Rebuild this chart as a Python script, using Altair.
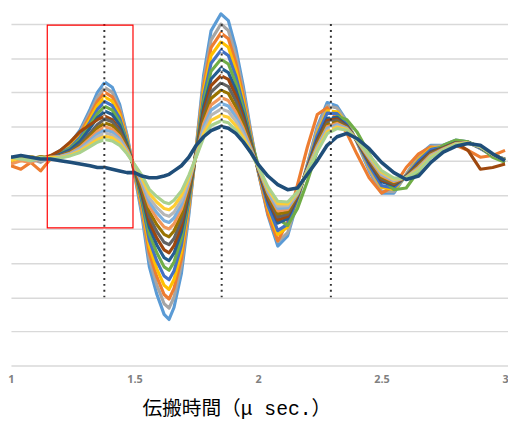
import altair as alt
import pandas as pd

# shared time axis (μsec)
x_vals = [1.00, 1.04, 1.08, 1.12, 1.16, 1.20, 1.24, 1.28, 1.32, 1.35, 1.38, 1.41, 1.44, 1.47,
          1.50, 1.53, 1.56, 1.59, 1.62, 1.64, 1.66, 1.69, 1.72, 1.75, 1.78, 1.81, 1.85, 1.88,
          1.91, 1.94, 1.97, 2.00, 2.04, 2.08, 2.12, 2.16, 2.20, 2.24, 2.28, 2.32, 2.36, 2.40,
          2.45, 2.50, 2.55, 2.60, 2.65, 2.70, 2.75, 2.80, 2.85, 2.90, 2.95, 3.00]

s01 = [0.05, 0.12, -0.02, 0.05, 0.12, 0.30, 0.50, 0.90, 1.50, 2.00, 2.30, 2.15, 1.65, 0.75, -0.40, -1.60, -3.10, -3.90, -4.50, -4.65, -4.30, -3.30, -1.60, 0.40, 2.50, 3.80, 4.30, 4.10, 3.30, 2.20, 0.90,
       -0.30, -1.60, -2.50, -2.20, -1.20, -0.10, 1.00, 1.70, 1.60, 1.15, 0.55, -0.30, -0.95, -0.95, -0.40, 0.15, 0.45, 0.45, 0.60, 0.55, 0.35, 0.15, 0.05]
s02 = [0.00, 0.08, 0.05, -0.05, 0.10, 0.28, 0.47, 0.84, 1.40, 1.86, 2.14, 2.00, 1.53, 0.70, -0.37, -1.49, -2.88, -3.63, -4.19, -4.32, -4.00, -3.07, -1.49, 0.37, 2.33, 3.53, 4.00, 3.81, 3.07, 2.05, 0.84,
       -0.29, -1.52, -2.37, -2.11, -1.17, -0.12, 0.93, 1.61, 1.54, 1.13, 0.56, -0.25, -0.89, -0.91, -0.41, 0.11, 0.42, 0.44, 0.59, 0.55, 0.36, 0.15, 0.05]
s03 = [-0.15, -0.25, -0.05, -0.30, 0.05, 0.26, 0.44, 0.78, 1.31, 1.74, 2.00, 1.87, 1.44, 0.65, -0.35, -1.39, -2.70, -3.39, -3.92, -4.05, -3.74, -2.87, -1.39, 0.35, 2.18, 3.31, 3.74, 3.57, 2.87, 1.91, 0.78,
       -0.27, -1.55, -2.35, -1.80, -0.70, 0.40, 1.35, 1.55, 1.25, 0.80, 0.20, -0.50, -0.95, -0.75, -0.20, 0.20, 0.40, 0.35, 0.45, 0.30, 0.10, 0.15, 0.30]
s04 = [0.05, 0.00, 0.10, 0.02, 0.08, 0.24, 0.41, 0.73, 1.22, 1.62, 1.86, 1.74, 1.34, 0.61, -0.32, -1.30, -2.51, -3.16, -3.65, -3.77, -3.48, -2.67, -1.30, 0.32, 2.03, 3.08, 3.48, 3.32, 2.67, 1.78, 0.73,
       -0.26, -1.38, -2.16, -1.94, -1.12, -0.16, 0.81, 1.46, 1.43, 1.08, 0.57, -0.18, -0.78, -0.84, -0.43, 0.04, 0.36, 0.41, 0.57, 0.54, 0.37, 0.16, 0.04]
s05 = [0.10, 0.05, 0.00, 0.08, 0.10, 0.23, 0.38, 0.68, 1.13, 1.50, 1.73, 1.61, 1.24, 0.56, -0.30, -1.20, -2.33, -2.93, -3.38, -3.49, -3.23, -2.48, -1.20, 0.30, 1.88, 2.85, 3.23, 3.08, 2.48, 1.65, 0.68,
       -0.25, -1.31, -2.05, -1.86, -1.10, -0.17, 0.75, 1.39, 1.38, 1.06, 0.57, -0.14, -0.73, -0.80, -0.44, 0.00, 0.33, 0.40, 0.56, 0.54, 0.37, 0.16, 0.04]
s06 = [0.00, 0.10, 0.05, 0.10, 0.05, 0.21, 0.35, 0.62, 1.04, 1.38, 1.59, 1.48, 1.14, 0.52, -0.28, -1.10, -2.14, -2.69, -3.11, -3.21, -2.97, -2.28, -1.10, 0.28, 1.73, 2.62, 2.97, 2.83, 2.28, 1.52, 0.62,
       -0.10, -0.90, -1.70, -1.90, -1.40, -0.60, 0.30, 1.00, 1.30, 1.20, 0.85, 0.20, -0.50, -0.85, -0.80, -0.30, 0.20, 0.45, 0.60, 0.55, 0.40, 0.10, -0.05]
s07 = [0.05, 0.12, 0.08, 0.00, 0.10, 0.19, 0.32, 0.57, 0.95, 1.26, 1.45, 1.35, 1.04, 0.47, -0.25, -1.01, -1.95, -2.46, -2.84, -2.93, -2.71, -2.08, -1.01, 0.25, 1.58, 2.39, 2.71, 2.58, 2.08, 1.39, 0.57,
       -0.23, -1.17, -1.83, -1.70, -1.05, -0.21, 0.63, 1.24, 1.27, 1.02, 0.59, -0.06, -0.62, -0.73, -0.46, -0.07, 0.27, 0.38, 0.53, 0.53, 0.39, 0.17, 0.03]
s08 = [-0.05, 0.05, 0.10, 0.05, 0.15, 0.30, 0.55, 0.85, 1.05, 1.20, 1.30, 1.20, 0.90, 0.40, -0.23, -0.93, -1.80, -2.26, -2.61, -2.70, -2.49, -1.91, -0.93, 0.23, 1.45, 2.20, 2.49, 2.38, 1.91, 1.28, 0.52,
       -0.22, -1.12, -1.74, -1.63, -1.03, -0.23, 0.58, 1.18, 1.22, 1.00, 0.59, -0.03, -0.57, -0.70, -0.46, -0.10, 0.24, 0.37, 0.52, 0.30, -0.25, -0.20, -0.10]
s09 = [0.08, 0.02, 0.12, 0.05, 0.10, 0.16, 0.27, 0.48, 0.80, 1.06, 1.22, 1.14, 0.87, 0.40, -0.21, -0.85, -1.64, -2.07, -2.39, -2.46, -2.28, -1.75, -0.85, 0.21, 1.33, 2.01, 2.28, 2.17, 1.75, 1.17, 0.48,
       -0.21, -1.06, -1.65, -1.57, -1.01, -0.24, 0.53, 1.11, 1.18, 0.99, 0.60, 0.01, -0.53, -0.67, -0.47, -0.13, 0.22, 0.36, 0.52, 0.53, 0.40, 0.17, 0.03]
s10 = [0.00, 0.10, 0.05, 0.12, 0.08, 0.14, 0.24, 0.43, 0.72, 0.96, 1.10, 1.03, 0.79, 0.36, -0.19, -0.77, -1.49, -1.87, -2.16, -2.23, -2.06, -1.58, -0.77, 0.19, 1.20, 1.82, 2.06, 1.97, 1.58, 1.06, 0.43,
       -0.20, -1.00, -1.56, -1.50, -0.99, -0.26, 0.48, 1.05, 1.13, 0.97, 0.60, 0.04, -0.48, -0.64, -0.48, -0.16, 0.19, 0.35, 0.51, 0.52, 0.40, 0.18, 0.02]
s11 = [-0.10, 0.00, -0.05, 0.05, 0.10, 0.13, 0.22, 0.39, 0.65, 0.86, 0.99, 0.92, 0.71, 0.32, -0.17, -0.69, -1.33, -1.68, -1.94, -2.00, -1.85, -1.42, -0.69, 0.17, 1.08, 1.63, 1.85, 1.76, 1.42, 0.95, 0.39,
       -0.19, -0.94, -1.47, -1.43, -0.97, -0.27, 0.43, 0.99, 1.09, 0.95, 0.61, 0.07, -0.44, -0.61, -0.49, -0.19, 0.17, 0.34, 0.50, 0.52, 0.41, 0.18, 0.02]
s12 = [0.05, 0.10, 0.00, 0.05, 0.08, 0.12, 0.20, 0.35, 0.59, 0.78, 0.90, 0.84, 0.64, 0.29, -0.16, -0.62, -1.21, -1.52, -1.76, -1.81, -1.68, -1.29, -0.62, 0.16, 0.98, 1.48, 1.68, 1.60, 1.29, 0.86, 0.35,
       -0.18, -0.90, -1.40, -1.38, -0.96, -0.28, 0.39, 0.94, 1.05, 0.94, 0.61, 0.10, -0.40, -0.58, -0.49, -0.22, 0.15, 0.33, 0.49, 0.52, 0.41, 0.18, 0.02]
s13 = [0.10, 0.05, 0.10, 0.00, 0.05, 0.11, 0.18, 0.32, 0.53, 0.70, 0.81, 0.75, 0.58, 0.26, -0.14, -0.56, -1.09, -1.37, -1.58, -1.63, -1.51, -1.16, -0.56, 0.14, 0.88, 1.33, 1.51, 1.44, 1.16, 0.77, 0.32,
       -0.17, -0.85, -1.33, -1.32, -0.94, -0.29, 0.35, 0.89, 1.02, 0.92, 0.61, 0.12, -0.37, -0.56, -0.50, -0.24, 0.13, 0.32, 0.48, 0.52, 0.41, 0.18, 0.02]
s14 = [0.00, 0.08, 0.12, 0.05, 0.10, 0.09, 0.16, 0.28, 0.47, 0.62, 0.71, 0.67, 0.51, 0.23, -0.12, -0.50, -0.96, -1.21, -1.40, -1.44, -1.33, -1.02, -0.50, 0.12, 0.78, 1.18, 1.33, 1.27, 1.02, 0.68, 0.28,
       -0.16, -0.81, -1.26, -1.27, -0.92, -0.31, 0.31, 0.84, 0.98, 0.91, 0.62, 0.15, -0.33, -0.54, -0.50, -0.26, 0.11, 0.31, 0.48, 0.52, 0.42, 0.18, 0.02]
s15 = [0.10, 0.05, 0.00, 0.10, 0.05, 0.08, 0.14, 0.24, 0.41, 0.54, 0.62, 0.58, 0.45, 0.20, -0.11, -0.43, -0.84, -1.05, -1.22, -1.26, -1.16, -0.89, -0.43, 0.11, 0.68, 1.03, 1.16, 1.11, 0.89, 0.59, 0.24,
       -0.15, -0.76, -1.19, -1.21, -0.91, -0.32, 0.27, 0.79, 0.94, 0.89, 0.62, 0.17, -0.29, -0.51, -0.51, -0.29, 0.09, 0.30, 0.47, 0.51, 0.42, 0.19, 0.01]
s16 = [0.10, 0.15, 0.10, 0.05, 0.05, 0.00, -0.05, -0.10, -0.15, -0.20, -0.20, -0.25, -0.30, -0.35, -0.35, -0.45, -0.50, -0.50, -0.45, -0.40, -0.30, -0.15, 0.10, 0.45, 0.70, 0.88, 1.00, 0.95, 0.80, 0.55, 0.25,
       -0.10, -0.45, -0.70, -0.85, -0.80, -0.40, 0.00, 0.45, 0.70, 0.80, 0.65, 0.35, -0.05, -0.35, -0.55, -0.45, -0.05, 0.25, 0.42, 0.50, 0.45, 0.20, 0.00]

series_names = ["s01", "s02", "s03", "s04", "s05", "s06", "s07", "s08",
                "s09", "s10", "s11", "s12", "s13", "s14", "s15"]
series_data = [s01, s02, s03, s04, s05, s06, s07, s08, s09, s10, s11, s12, s13, s14, s15]
series_colors = ["#5B9BD5", "#A5A5A5", "#ED7D31", "#FFC000", "#4472C4", "#70AD47", "#255E91",
                 "#9E480E", "#636363", "#997300", "#F1975A", "#7CAFDD", "#B7B7B7", "#FFCD33", "#A9D18E"]
navy_color = "#1F4E79"

x_ticks = [1, 1.5, 2, 2.5, 3]
y_grid = [-6, -5, -4, -3, -2, -1, 0, 1, 2, 3, 4]
marker_x = [1.378, 1.853, 2.295]
marker_top, marker_bottom = 4, -4
box_x = [1.147, 1.494]
box_y = [3.97, -1.97]

rows = []
for name, vals in zip(series_names, series_data):
    assert len(vals) == len(x_vals), name
    for xv, yv in zip(x_vals, vals):
        rows.append({"series": name, "t": xv, "v": yv})
df = pd.DataFrame(rows)
assert len(s16) == len(x_vals)
df_navy = pd.DataFrame({"t": x_vals, "v": s16})
df_rules = pd.DataFrame({"t": marker_x, "v": [marker_top] * 3, "v2": [marker_bottom] * 3})
df_box = pd.DataFrame({"t": [box_x[0]], "t2": [box_x[1]], "v": [box_y[0]], "v2": [box_y[1]]})

xscale = alt.Scale(domain=[1, 3.012], nice=False, zero=False)
yscale = alt.Scale(domain=[-6, 4.375], nice=False, zero=False)

x_axis = alt.Axis(
    values=x_ticks, format="~g", grid=False, domain=False, ticks=False,
    labelColor="#808080", labelFontSize=11, labelFontWeight="bold", labelFont="Open Sans",
    labelPadding=8, labelFlush=False,
    title="伝搬時間（μ sec.）", titleFont="Liberation Mono, Noto Sans CJK JP", titleFontSize=20,
    titleFontWeight="normal", titleColor="#000000", titleX=229, titleY=44,
    titleAlign="center", titleBaseline="middle")
y_axis = alt.Axis(
    values=y_grid, grid=True, gridColor="#D9D9D9", gridWidth=1.5,
    labels=False, ticks=False, domain=False, title="")

X = alt.X("t:Q", scale=xscale, axis=x_axis)
Y = alt.Y("v:Q", scale=yscale, axis=y_axis)

lines = alt.Chart(df).mark_line(strokeWidth=3.2, clip=True, strokeJoin="round").encode(
    x=X, y=Y,
    color=alt.Color("series:N", scale=alt.Scale(domain=series_names, range=series_colors), legend=None),
)
navy = alt.Chart(df_navy).mark_line(strokeWidth=3.6, clip=True, strokeJoin="round", color=navy_color).encode(
    x=X, y=Y)

rule_white = alt.Chart(df_rules).mark_rule(color="#ffffff", strokeWidth=2, strokeDash=[2, 4], strokeDashOffset=3).encode(
    x=X, y=Y, y2="v2:Q")
rule_black = alt.Chart(df_rules).mark_rule(color="#333333", strokeWidth=2, strokeDash=[2, 4]).encode(
    x=X, y=Y, y2="v2:Q")

box = alt.Chart(df_box).mark_rect(fillOpacity=0, stroke="#FF0000", strokeWidth=1.2).encode(
    x=X, x2="t2:Q", y=Y, y2="v2:Q")

chart = alt.layer(lines, navy, rule_white, rule_black, box).properties(
    width=505, height=360,
    autosize=alt.AutoSizeParams(type="none"),
    padding={"left": 3, "top": 0, "right": 0, "bottom": 52},
    background="#ffffff",
).configure_view(stroke="transparent")

chart.save("out.html", embed_options={"renderer": "svg", "actions": False})
